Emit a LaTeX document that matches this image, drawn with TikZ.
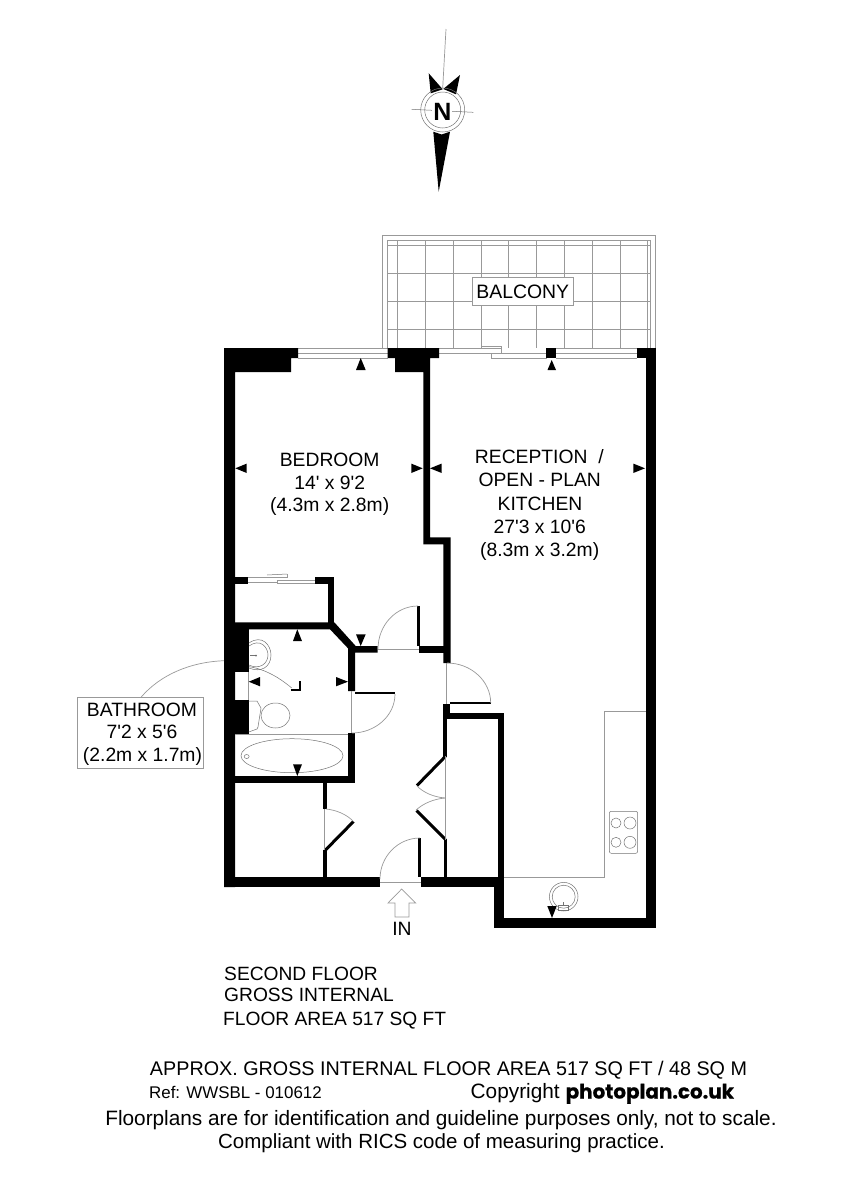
\documentclass[tikz,border=0pt]{standalone}
\usepackage{fontspec}
\setmainfont{Liberation Sans}
\newfontfamily\basefont{Liberation Sans}
\newfontfamily\logofont{Poppins}[BoldFont=Poppins Bold,BoldFeatures={FakeBold=0.6}]
\newcommand\plansize[1]{\basefont\fontsize{#1}{22}\selectfont}
\tikzset{
 wall/.style={fill=black,draw=none},
 thin line/.style={draw=black!40,line width=0.7pt},
 fine line/.style={draw=black!55,line width=0.5pt},
 leaf/.style={draw=black,line width=3pt},
 marker/.style={fill=black,draw=none},
 lab/.style={anchor=base,inner sep=0pt,font=\plansize{19.3}},
 labl/.style={anchor=base west,inner sep=0pt,font=\plansize{19.2}},
 foot/.style={anchor=base,inner sep=0pt},
}
\begin{document}
\begin{tikzpicture}[x=1pt,y=-1pt]
\useasboundingbox (0,0) rectangle (843,1192);
% compass
\draw[thin line] (446,29) -- (442.7,88);
\fill[marker] (428.7,73.3) -- (442.7,89.3) -- (430.7,93.3) -- cycle;
\fill[marker] (460,75) -- (456,94.3) -- (443.3,89) -- cycle;
\draw[fine line] (442.7,110) circle[radius=22];
\draw[fine line] (442.7,110) circle[radius=18];
\draw[fine line] (411.7,109.3) -- (473.3,112.3);
\node[anchor=base,inner sep=1pt,fill=white,font=\basefont\fontsize{25}{26}\selectfont\bfseries] (north) at (442.4,120.4) {N};
\fill[marker] (433.3,131.7) -- (441.5,134.5) -- (450,131.7) -- (438.7,191.7) -- cycle;
% balcony
\draw[thin line] (382.3,348) -- (382.3,235) -- (655.7,235) -- (655.7,348);
\draw[thin line] (387.3,348) -- (387.3,240) -- (650.7,240) -- (650.7,348);
\draw[thin line] (387.3,245) -- (650.7,245);
\draw[thin line] (647.3,240) -- (647.3,348);
\foreach \gx in {397.3,425.3,453.3,481.3,508.7,536.7,564.7,592.7,620.7}
  \draw[thin line] (\gx,240) -- (\gx,348);
\foreach \gy in {273.3,301.3,329.3}
  \draw[thin line] (387.3,\gy) -- (650.7,\gy);
\node[draw=black!40,line width=0.6pt,fill=white,minimum width=101pt,minimum height=28.4pt,inner sep=0pt,font=\plansize{19.4}] (balcony) at (522.8,291.5) {BALCONY};
% windows
\foreach \wy in {348,353.3,358.3}
  \draw[thin line] (298,\wy) -- (388,\wy);
\draw[thin line] (439,348) -- (501.7,348) (439,353) -- (491,353) (501.7,346) -- (501.7,353);
\draw[thin line] (481.7,346) -- (501.7,346);
\draw[thin line] (491.3,353.3) -- (546.3,353.3) -- (546.3,358.3) -- (491.3,358.3) -- cycle;
\foreach \wy in {348,353.3,358.3}
  \draw[thin line] (556,\wy) -- (637,\wy);
% walls
\fill[wall] (224,348) -- (298,348) -- (298,358) -- (291,358) -- (291,372) -- (235,372) -- (235,887) -- (224,887) -- cycle;
\fill[wall] (387.5,348) -- (439,348) -- (439,358) -- (430,358) -- (430,537.3) -- (450.7,537.3) -- (450.7,663) -- (443.3,663) -- (443.3,544.3) -- (423.3,544.3) -- (423.3,372) -- (395,372) -- (395,358) -- (387.5,358) -- cycle;
\fill[wall] (546.3,348) rectangle (556,358.3);
\fill[wall] (636.7,348) rectangle (655.7,358.3);
\fill[wall] (645.7,348) rectangle (655.7,928);
\fill[wall] (235,577.3) rectangle (248,584);
\fill[wall] (315,577.3) rectangle (334.3,584);
\fill[wall] (328,577.3) rectangle (334.3,625);
\fill[wall] (235,622.3) -- (334.3,622.3) -- (355.7,646) -- (377.7,646) -- (377.7,652.7) -- (355,652.7) -- (355,691) -- (348,691) -- (348,648.3) -- (330,629.3) -- (235,629.3) -- cycle;
\fill[wall] (235,629) rectangle (248.7,672);
\fill[wall] (235,700.3) rectangle (248.7,734.3);
\fill[wall] (348,732.7) rectangle (355,783);
\fill[wall] (235,776) rectangle (355,783);
\fill[wall] (419,646) rectangle (443.5,652.7);
\fill[wall] (416.7,605.7) rectangle (419.5,646);
\fill[wall] (443.3,704) rectangle (450,719.3);
\fill[wall] (450,701.7) rectangle (490.7,704.2);
\fill[wall] (443.3,712.7) rectangle (504.3,719.3);
\fill[wall] (497.7,712.7) rectangle (504.3,928);
\fill[wall] (443.3,719) rectangle (446.7,757);
\fill[wall] (443.8,839) rectangle (446.7,877);
\fill[wall] (323,783) rectangle (326.7,809);
\fill[wall] (323,850) rectangle (326.7,877);
\fill[wall] (224,877) rectangle (380,887.3);
\fill[wall] (421,877) rectangle (504.3,887.3);
\fill[wall] (494.3,887) rectangle (504.3,928);
\fill[wall] (494.3,918) rectangle (655.7,928);
\fill[wall] (418,838) rectangle (420.8,877);
\fill[wall] (355,691.7) rectangle (395,694.2);
% door leaves
\draw[leaf] (445.3,756.5) -- (417,785.5);
\draw[leaf] (416.5,810.5) -- (445.3,839.3);
\draw[leaf] (325,850.5) -- (353.5,821.5);
% door swings and thresholds
\draw[thin line] (380,879) .. controls (380,856.4) and (398,838) .. (420,838);
\draw[thin line] (378,649) .. controls (378,625) and (396,606) .. (418,606);
\draw[thin line] (447,663) .. controls (471,663) and (490.7,681) .. (490.7,703);
\draw[thin line] (395,694) .. controls (395,716) and (375,733) .. (352,733);
\draw[thin line] (417,786) .. controls (424,793) and (434,797) .. (445,798);
\draw[thin line] (445,798) .. controls (434,799) and (424,803) .. (416,810);
\draw[thin line] (326,809) .. controls (336,810) and (346,814) .. (353,821);
\draw[thin line] (378,649) -- (419,649);
\draw[thin line] (446.7,663) -- (446.7,704);
\draw[thin line] (351.3,691) -- (351.3,733);
\draw[thin line] (445.3,756) -- (445.3,840);
\draw[thin line] (324.5,809) -- (324.5,850);
\draw[thin line] (380,882) -- (421,882);
% closet slider
\draw[thin line] (248,577.5) -- (287,577.5) -- (287,574);
\draw[thin line] (248,582) -- (277,582);
\draw[thin line] (277,580) -- (315,580) (277,580) -- (277,583.5) -- (315,583.5);
\draw[fine line] (267,575) -- (287,574);
% bathroom fittings
\draw[thin line] (248.7,672) -- (248.7,700);
\draw[thin line] (235,734.3) -- (348,734.3);
\draw[fine line] (292,755.7) ellipse[x radius=51,y radius=17];
\draw[fine line] (246.7,756.5) ellipse[x radius=2.5,y radius=2];
\draw[fine line] (248.7,701) -- (257,701) -- (261,708) -- (258,727) -- (257,729) -- (248.7,732);
\draw[fine line] (275.5,715.5) ellipse[x radius=14.5,y radius=12.5];
\draw[fine line] (249,643) .. controls (262,634) and (271,645) .. (271,655) .. controls (271,667) and (261,673) .. (249,668);
\draw[fine line] (249,646) .. controls (260,638) and (268,647) .. (268,655) .. controls (268,664) and (259,670) .. (249,665);
\draw[fine line] (250,655.5) -- (256,655.5);
\fill[black!60] (256,655.7) circle[radius=1];
\draw[fine line] (249,666.7) .. controls (265,669) and (280,678) .. (291.7,688);
\draw[draw=black,line width=1.6pt] (290.7,690) -- (300,690) -- (300,681);
% kitchen
\draw[thin line] (504,877) -- (604.7,877) -- (604.7,711) -- (645.7,711);
\draw[fine line,rounded corners=2pt] (609.3,811.3) rectangle (637.7,853.3);
\draw[fine line] (616,823) circle[radius=5];
\draw[fine line] (630,823) circle[radius=6];
\draw[fine line] (616,842.3) circle[radius=5];
\draw[fine line] (630,842.3) circle[radius=6];
\draw[fine line] (563.7,896.7) circle[radius=14.3];
\draw[fine line] (563.7,896.7) circle[radius=11.5];
\draw[fine line] (558.5,905.5) rectangle (568.5,910);
\draw[fine line] (563.5,902) -- (563.5,905.5);
% dimension markers
\fill[marker] (360.7,358) -- (356,370) -- (365.7,370) -- cycle;
\fill[marker] (551.7,360) -- (547.5,370) -- (556,370) -- cycle;
\fill[marker] (235.3,468.3) -- (246.7,463.6) -- (246.7,473) -- cycle;
\fill[marker] (422.7,468.3) -- (411.3,463.6) -- (411.3,473) -- cycle;
\fill[marker] (430,468.3) -- (441.7,463.6) -- (441.7,473) -- cycle;
\fill[marker] (645,468.3) -- (633.3,463.6) -- (633.3,473) -- cycle;
\fill[marker] (297.3,629.3) -- (293,641) -- (302,641) -- cycle;
\fill[marker] (360.7,646) -- (356,634.3) -- (365.7,634.3) -- cycle;
\fill[marker] (248.7,681.7) -- (260,677) -- (260,686.3) -- cycle;
\fill[marker] (348,681.7) -- (336,677) -- (336,686.3) -- cycle;
\fill[marker] (297.3,776) -- (293,764.3) -- (302,764.3) -- cycle;
\fill[marker] (552,918) -- (547.3,906) -- (556.7,906) -- cycle;
% entrance arrow
\draw[thin line] (401.7,889) -- (388,903) -- (395,903) -- (395,917) -- (409,917) -- (409,903) -- (415.7,903) -- cycle;
\node[lab] (in) at (402,935.5) {IN};
% room labels
\node[lab] (bed1) at (329.7,466) {BEDROOM};
\node[lab] (bed2) at (329.7,489.3) {14' x 9'2};
\node[lab] (bed3) at (329.7,511.3) {(4.3m x 2.8m)};
\node[lab] (rec1) at (539.3,463.3) {RECEPTION\ \ /};
\node[lab] (rec2) at (539.7,486.7) {OPEN - PLAN};
\node[lab] (rec3) at (540,510) {KITCHEN};
\node[lab] (rec4) at (539.7,533.3) {27'3 x 10'6};
\node[lab] (rec5) at (539.7,556.7) {(8.3m x 3.2m)};
% bathroom callout
\node[draw=black!40,line width=0.6pt,fill=white,minimum width=126pt,minimum height=71pt,inner sep=0pt] (bathbox) at (140.3,732.8) {};
\coordinate (bathwall) at (224,660.7);
\draw[thin line] (141,697.3) .. controls (160,675) and (190,662) .. (bathwall);
\node[lab] (bath1) at (142,716) {BATHROOM};
\node[lab] (bath2) at (142,738.7) {7'2 x 5'6};
\node[lab] (bath3) at (142.5,761) {(2.2m x 1.7m)};
% floor area
\node[labl] (fa1) at (224,980) {SECOND FLOOR};
\node[labl] (fa2) at (224,1001.7) {GROSS INTERNAL};
\node[labl] (fa3) at (223,1025.7) {FLOOR AREA 517 SQ FT};
% footer
\node[foot,font=\plansize{19.75}] (f1) at (448.5,1075) {APPROX. GROSS INTERNAL FLOOR AREA 517 SQ FT / 48 SQ M};
\node[anchor=base west,inner sep=0pt,font=\plansize{16.9}] (f2) at (149,1098.5) {Ref: WWSBL - 010612};
\node[anchor=base west,inner sep=0pt,font=\plansize{20.8}] (f3) at (470.5,1098) {Copyright};
\node[anchor=base west,inner sep=0pt,font=\logofont\fontsize{19.9}{22}\selectfont\bfseries] (f4) at (565.5,1098.5) {photoplan.co.uk};
\node[foot,font=\plansize{20.8}] (f5) at (441,1125) {Floorplans are for identification and guideline purposes only, not to scale.};
\node[foot,font=\plansize{20.5}] (f6) at (441.5,1148) {Compliant with RICS code of measuring practice.};
\end{tikzpicture}
\end{document}
